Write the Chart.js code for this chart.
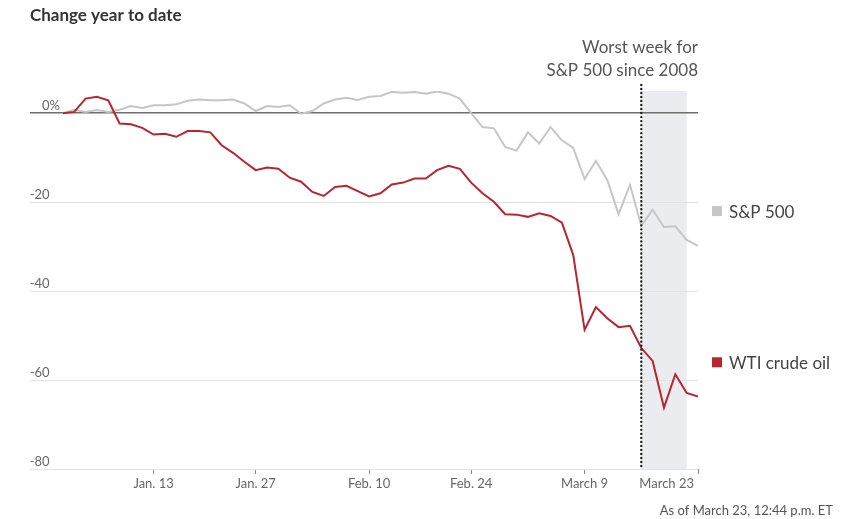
<!DOCTYPE html>
<html>
<head>
<meta charset="utf-8">
<script src="https://cdn.jsdelivr.net/npm/chart.js@4.4.1/dist/chart.umd.min.js"></script>
<style>
  html, body { margin: 0; padding: 0; background: #fff; }
  #wrap { width: 851px; height: 519px; position: relative; }
</style>
</head>
<body>
<div id="wrap"><canvas id="chart"></canvas></div>
<script>
'use strict';

// trading days, Dec 31 2019 -> March 23 2020
let dates = [
  'Dec 31', 'Jan 2', 'Jan 3', 'Jan 6', 'Jan 7', 'Jan 8', 'Jan 9', 'Jan 10',
  'Jan 13', 'Jan 14', 'Jan 15', 'Jan 16', 'Jan 17', 'Jan 21', 'Jan 22', 'Jan 23', 'Jan 24',
  'Jan 27', 'Jan 28', 'Jan 29', 'Jan 30', 'Jan 31', 'Feb 3', 'Feb 4', 'Feb 5', 'Feb 6', 'Feb 7',
  'Feb 10', 'Feb 11', 'Feb 12', 'Feb 13', 'Feb 14', 'Feb 18', 'Feb 19', 'Feb 20', 'Feb 21',
  'Feb 24', 'Feb 25', 'Feb 26', 'Feb 27', 'Feb 28', 'Mar 2', 'Mar 3', 'Mar 4', 'Mar 5', 'Mar 6',
  'Mar 9', 'Mar 10', 'Mar 11', 'Mar 12', 'Mar 13', 'Mar 16', 'Mar 17', 'Mar 18', 'Mar 19', 'Mar 20',
  'Mar 23'
];

let spValues = [
  0, 0.8, 0.3, 0.7, 0.3, 0.8, 1.6, 1.2,
  1.8, 1.8, 2.0, 2.8, 3.1, 2.9, 2.9, 3.1, 2.2,
  0.5, 1.6, 1.4, 1.8, -0.1, 0.5, 2.2, 3.1, 3.5, 3.0,
  3.7, 3.9, 4.8, 4.6, 4.8, 4.4, 4.9, 4.4, 3.3,
  0.0, -3.1, -3.4, -7.6, -8.4, -4.3, -6.8, -3.1, -6.1, -7.8,
  -14.8, -10.7, -15.0, -22.7, -16.1, -25.3, -21.7, -25.6, -25.4, -28.5,
  -29.8
];

let wtiValues = [
  0, 0.3, 3.3, 3.7, 2.9, -2.3, -2.5, -3.3,
  -4.8, -4.6, -5.3, -4.0, -4.0, -4.3, -7.2, -8.9, -10.9,
  -12.8, -12.2, -12.5, -14.5, -15.4, -17.7, -18.6, -16.6, -16.3, -17.5,
  -18.7, -18.0, -16.0, -15.6, -14.7, -14.7, -12.8, -11.8, -12.5,
  -15.6, -18.0, -19.9, -22.7, -22.8, -23.3, -22.5, -23.1, -24.6, -31.9,
  -48.7, -43.6, -46.1, -48.1, -47.8, -52.8, -55.7, -66.2, -58.7, -62.9,
  -63.7
];

let tickDates = ['Jan 13', 'Jan 27', 'Feb 10', 'Feb 24', 'Mar 9', 'Mar 23'];
let tickLabels = ['Jan. 13', 'Jan. 27', 'Feb. 10', 'Feb. 24', 'March 9', 'March 23'];
let yTicks = [0, -20, -40, -60, -80];

let worstWeekStart = 'Mar 16';
let worstWeekEnd = 'Mar 20';
let noteLines = ['Worst week for', 'S&P 500 since 2008'];
let seriesNames = ['S&P 500', 'WTI crude oil'];
let seriesLabelAt = [-22, -56];

let fontName = 'Lato, "Open Sans", sans-serif';
let redColor = '#b5262f';
let grayColor = '#c6c6c6';

function toPoints(values) {
  return values.map((v, i) => ({ x: i, y: v }));
}

let overlayPlugin = {
  id: 'overlay',
  beforeDraw(chart) {
    let ctx = chart.ctx;
    let area = chart.chartArea;
    let xs = chart.scales.x;
    let left = xs.getPixelForValue(dates.indexOf(worstWeekStart));
    let right = xs.getPixelForValue(dates.indexOf(worstWeekEnd));
    ctx.save();
    ctx.fillStyle = '#ebecef';
    ctx.fillRect(left, area.top, right - left, area.bottom - area.top);
    ctx.restore();
  },
  afterDatasetsDraw(chart) {
    let ctx = chart.ctx;
    let area = chart.chartArea;
    let x = chart.scales.x.getPixelForValue(dates.indexOf(worstWeekStart));
    ctx.save();
    ctx.strokeStyle = '#222';
    ctx.lineWidth = 2.4;
    ctx.lineCap = 'round';
    ctx.setLineDash([0.01, 4]);
    ctx.beginPath();
    ctx.moveTo(x, area.top - 6);
    ctx.lineTo(x, area.bottom);
    ctx.stroke();
    ctx.restore();
  },
  afterDraw(chart) {
    let ctx = chart.ctx;
    let area = chart.chartArea;
    let xs = chart.scales.x;
    let ys = chart.scales.y;
    ctx.save();

    // title
    ctx.fillStyle = '#333';
    ctx.font = 'bold 17px ' + fontName;
    ctx.textAlign = 'left';
    ctx.textBaseline = 'alphabetic';
    ctx.fillText('Change year to date', 30, 21);

    // y labels, sitting above their grid lines
    ctx.font = '13px ' + fontName;
    ctx.fillStyle = '#666';
    ctx.textAlign = 'right';
    let pctWidth = ctx.measureText('%').width;
    yTicks.forEach(v => {
      let py = ys.getPixelForValue(v);
      if (v === 0) {
        ctx.fillText('0%', 60, py - 3);
      } else {
        ctx.fillText(String(v), 60 - pctWidth, py - 3);
      }
    });

    // x labels
    tickDates.forEach((d, i) => {
      let px = xs.getPixelForValue(dates.indexOf(d));
      if (i === tickDates.length - 1) {
        ctx.textAlign = 'right';
        ctx.fillText(tickLabels[i], px - 4, area.bottom + 19);
      } else {
        ctx.textAlign = 'center';
        ctx.fillText(tickLabels[i], px, area.bottom + 19);
      }
    });

    // note above the shaded week
    ctx.font = '17px ' + fontName;
    ctx.fillStyle = '#555';
    ctx.textAlign = 'right';
    ctx.fillText(noteLines[0], area.right, 53);
    ctx.fillText(noteLines[1], area.right, 76);

    // series labels
    let colors = [grayColor, redColor];
    ctx.textAlign = 'left';
    ctx.textBaseline = 'middle';
    seriesNames.forEach((name, i) => {
      let py = ys.getPixelForValue(seriesLabelAt[i]);
      ctx.fillStyle = colors[i];
      ctx.fillRect(712, py - 5, 10, 10);
      ctx.fillStyle = '#444';
      ctx.fillText(name, 729, py + 1);
    });

    // source line
    ctx.font = '13px ' + fontName;
    ctx.fillStyle = '#555';
    ctx.textAlign = 'right';
    ctx.textBaseline = 'alphabetic';
    ctx.fillText('As of March 23, 12:44 p.m. ET', 833, 515);
    ctx.restore();
  }
};

let chartData = {
  type: 'line',
  data: {
    datasets: [{
      label: seriesNames[0],
      data: toPoints(spValues),
      borderColor: grayColor,
      borderWidth: 2,
      pointRadius: 0,
      tension: 0,
      order: 1
    },
    {
      label: seriesNames[1],
      data: toPoints(wtiValues),
      borderColor: redColor,
      borderWidth: 2,
      pointRadius: 0,
      tension: 0,
      order: 0
    }]
  },
  options: {
    responsive: true,
    maintainAspectRatio: false,
    animation: false,
    events: [],
    layout: {
      padding: { left: 30, right: 153, top: 91, bottom: 0 }
    },
    plugins: {
      legend: { display: false },
      title: { display: false },
      tooltip: { enabled: false }
    },
    scales: {
      x: {
        type: 'linear',
        min: -2.9,
        max: 56,
        afterBuildTicks: s => { s.ticks = tickDates.map(d => ({ value: dates.indexOf(d) })); },
        afterFit: s => { s.height = 50; },
        ticks: { display: false },
        border: { display: false },
        grid: {
          drawOnChartArea: false,
          drawTicks: true,
          tickLength: 5,
          color: '#888',
          lineWidth: 1
        }
      },
      y: {
        type: 'linear',
        min: -80,
        max: 5,
        afterBuildTicks: s => { s.ticks = yTicks.map(v => ({ value: v })); },
        afterFit: s => { s.width = 0; },
        ticks: { display: false },
        border: { display: false },
        grid: {
          drawTicks: false,
          color: c => (c.tick && c.tick.value === 0 ? '#6f6f6f' : '#e3e3e3'),
          lineWidth: c => (c.tick && c.tick.value === 0 ? 1.5 : 1)
        }
      }
    }
  },
  plugins: [overlayPlugin]
};

let graph = new Chart(document.getElementById('chart'), chartData);//eslint-disable-line
</script>
</body>
</html>
